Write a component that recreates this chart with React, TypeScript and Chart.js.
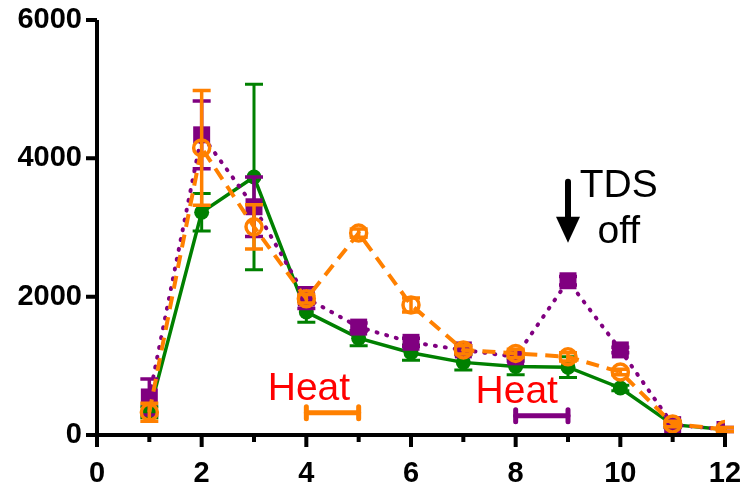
import React, { useEffect, useRef } from "react";
import { Chart, registerables } from "chart.js";

Chart.register(...registerables);

const xValues = [1, 2, 3, 4, 5, 6, 7, 8, 9, 10, 11, 12];
const greenValues = [330, 3220, 3730, 1780, 1400, 1190, 1050, 990, 980, 680, 150, 80];
const greenErrors = [80, 270, 1340, 150, 110, 110, 110, 120, 150, 40, 40, 30];
const purpleValues = [550, 4340, 3300, 1980, 1560, 1340, 1230, 1130, 2230, 1230, 150, 80];
const purpleErrors = [260, 490, 430, 150, 60, 60, 60, 60, 60, 40, 40, 30];
const orangeValues = [330, 4150, 3010, 1970, 2920, 1880, 1230, 1180, 1130, 910, 160, 80];
const orangeErrors = [130, 830, 320, 60, 60, 100, 60, 60, 60, 40, 40, 30];

const xTicks = [0, 2, 4, 6, 8, 10, 12];
const yTicks = [0, 2000, 4000, 6000];

const heatOrange = { from: 4, to: 5, y: 320, labelX: 4.05, labelY: 500 };
const heatPurple = { from: 8, to: 9, y: 280, labelX: 8.02, labelY: 465 };
const tdsArrow = { x: 9, fromY: 3660, toY: 2780, labelX: 9.97, line1Y: 3440, line2Y: 2775 };

const GREEN = "#008000";
const PURPLE = "#800080";
const ORANGE = "#FF8000";

const toPoints = (vals: number[]) => vals.map((v, i) => ({ x: xValues[i], y: v }));

const errorBarPlugin = {
  id: "errorBars",
  beforeDatasetDraw(chart: any, args: any) {
    const ds = chart.data.datasets[args.index];
    const errs: number[] | undefined = ds.errors;
    if (!errs) return;
    const ctx = chart.ctx;
    const xs = chart.scales.x;
    const ys = chart.scales.y;
    ctx.save();
    ctx.strokeStyle = ds.borderColor;
    ctx.lineWidth = ds.errorWidth || 3;
    ctx.lineCap = "butt";
    ctx.setLineDash([]);
    const cap = 9;
    ds.data.forEach((p: any, i: number) => {
      const e = errs[i];
      const px = xs.getPixelForValue(p.x);
      const top = ys.getPixelForValue(p.y + e);
      const bot = ys.getPixelForValue(Math.max(0, p.y - e));
      ctx.beginPath();
      ctx.moveTo(px, top);
      ctx.lineTo(px, bot);
      ctx.moveTo(px - cap, top);
      ctx.lineTo(px + cap, top);
      ctx.moveTo(px - cap, bot);
      ctx.lineTo(px + cap, bot);
      ctx.stroke();
    });
    ctx.restore();
  },
};

const annotationPlugin = {
  id: "annotations",
  afterDatasetsDraw(chart: any) {
    const ctx = chart.ctx;
    const xs = chart.scales.x;
    const ys = chart.scales.y;
    ctx.save();
    const drawHeatBar = (h: any, color: string) => {
      const x1 = xs.getPixelForValue(h.from);
      const x2 = xs.getPixelForValue(h.to);
      const y = ys.getPixelForValue(h.y);
      ctx.strokeStyle = color;
      ctx.lineCap = "round";
      ctx.lineWidth = 5;
      ctx.beginPath();
      ctx.moveTo(x1, y);
      ctx.lineTo(x2, y);
      ctx.stroke();
      ctx.beginPath();
      ctx.moveTo(x1, y - 6);
      ctx.lineTo(x1, y + 6);
      ctx.moveTo(x2, y - 6);
      ctx.lineTo(x2, y + 6);
      ctx.stroke();
      ctx.fillStyle = "#FF0000";
      ctx.font = "39px 'Liberation Sans', Arial, sans-serif";
      ctx.textAlign = "center";
      ctx.textBaseline = "alphabetic";
      ctx.fillText("Heat", xs.getPixelForValue(h.labelX), ys.getPixelForValue(h.labelY));
    };
    drawHeatBar(heatOrange, ORANGE);
    drawHeatBar(heatPurple, PURPLE);

    // TDS arrow
    const ax = xs.getPixelForValue(tdsArrow.x);
    const ay1 = ys.getPixelForValue(tdsArrow.fromY);
    const ay2 = ys.getPixelForValue(tdsArrow.toY);
    ctx.strokeStyle = "#000";
    ctx.fillStyle = "#000";
    ctx.lineWidth = 6;
    ctx.lineCap = "round";
    ctx.beginPath();
    ctx.moveTo(ax, ay1);
    ctx.lineTo(ax, ay2 - 18);
    ctx.stroke();
    ctx.beginPath();
    ctx.moveTo(ax - 12, ay2 - 26);
    ctx.lineTo(ax + 12, ay2 - 26);
    ctx.lineTo(ax, ay2);
    ctx.closePath();
    ctx.fill();
    ctx.font = "39px 'Liberation Sans', Arial, sans-serif";
    ctx.textAlign = "center";
    ctx.fillText("TDS", xs.getPixelForValue(tdsArrow.labelX), ys.getPixelForValue(tdsArrow.line1Y));
    ctx.fillText("off", xs.getPixelForValue(tdsArrow.labelX), ys.getPixelForValue(tdsArrow.line2Y));
    ctx.restore();
  },
};

const axisPlugin = {
  id: "axisTicks",
  afterDraw(chart: any) {
    const ctx = chart.ctx;
    const xs = chart.scales.x;
    const ys = chart.scales.y;
    const area = chart.chartArea;
    ctx.save();
    ctx.strokeStyle = "#000";
    ctx.lineWidth = 4;
    ctx.lineCap = "butt";
    ctx.beginPath();
    ctx.moveTo(area.left, area.top);
    ctx.lineTo(area.left, area.bottom + 2);
    ctx.moveTo(area.left - 2, area.bottom);
    ctx.lineTo(area.right + 2, area.bottom);
    for (let v = 0; v <= 12; v++) {
      const px = xs.getPixelForValue(v);
      const len = v % 2 === 0 ? 12 : 7;
      ctx.moveTo(px, area.bottom);
      ctx.lineTo(px, area.bottom + len);
    }
    yTicks.forEach((v) => {
      const py = ys.getPixelForValue(v);
      ctx.moveTo(area.left, py);
      ctx.lineTo(area.left - 11, py);
    });
    ctx.stroke();
    ctx.restore();
  },
};

export default function App() {
  const ref = useRef<HTMLCanvasElement>(null);
  useEffect(() => {
    if (!ref.current) return;
    const tickFont = { family: "'Liberation Sans', Arial, sans-serif", size: 29, weight: "bold" as const };
    const chart = new Chart(ref.current, {
      type: "line",
      data: {
        datasets: [
          {
            label: "Green",
            data: toPoints(greenValues),
            errors: greenErrors,
            errorWidth: 3,
            borderColor: GREEN,
            backgroundColor: GREEN,
            borderWidth: 3.5,
            pointStyle: "circle",
            pointRadius: 7.5,
            pointBorderWidth: 0,
            pointBackgroundColor: GREEN,
            order: 3,
          } as any,
          {
            label: "Purple",
            data: toPoints(purpleValues),
            errors: purpleErrors,
            errorWidth: 3.5,
            borderColor: PURPLE,
            backgroundColor: PURPLE,
            borderWidth: 4,
            borderDash: [1, 9],
            borderCapStyle: "round",
            pointStyle: "rect",
            pointRadius: 12,
            pointBorderWidth: 0,
            pointBackgroundColor: PURPLE,
            order: 2,
          } as any,
          {
            label: "Orange",
            data: toPoints(orangeValues),
            errors: orangeErrors,
            errorWidth: 3.5,
            borderColor: ORANGE,
            backgroundColor: "rgba(0,0,0,0)",
            borderWidth: 4,
            borderDash: [13, 8],
            pointStyle: "circle",
            pointRadius: 8,
            pointBorderWidth: 3.5,
            pointBorderColor: ORANGE,
            pointBackgroundColor: "rgba(0,0,0,0)",
            order: 1,
          } as any,
        ],
      },
      options: {
        animation: false,
        responsive: false,
        maintainAspectRatio: false,
        layout: { padding: { top: 20, right: 19, left: 0, bottom: 0 } },
        plugins: { legend: { display: false }, tooltip: { enabled: false } },
        elements: { line: { tension: 0 } },
        scales: {
          x: {
            type: "linear",
            min: 0,
            max: 12,
            afterBuildTicks: (scale: any) => {
              scale.ticks = xTicks.map((v) => ({ value: v }));
            },
            afterFit: (scale: any) => {
              scale.height = 50;
              scale.paddingLeft = 0;
              scale.paddingRight = 0;
            },
            ticks: {
              color: "#000",
              font: tickFont,
              padding: 10,
              maxRotation: 0,
              autoSkip: false,
              callback: (v: any) => String(v),
            },
            grid: { display: true, drawOnChartArea: false, drawTicks: true, tickLength: 12, color: "rgba(0,0,0,0)" },
            border: { display: false },
          },
          y: {
            type: "linear",
            min: 0,
            max: 6000,
            afterBuildTicks: (scale: any) => {
              scale.ticks = yTicks.map((v) => ({ value: v }));
            },
            afterFit: (scale: any) => {
              scale.width = 97;
              scale.paddingTop = 0;
              scale.paddingBottom = 0;
            },
            ticks: { color: "#000", font: tickFont, padding: 3, callback: (v: any) => String(v) },
            grid: { display: true, drawOnChartArea: false, drawTicks: true, tickLength: 12, color: "rgba(0,0,0,0)" },
            border: { display: false },
          },
        },
      },
      plugins: [errorBarPlugin, annotationPlugin, axisPlugin],
    });
    return () => chart.destroy();
  }, []);
  return (
    <div style={{ position: "fixed", left: 0, top: 0, width: 744, height: 485, background: "#fff" }}>
      <canvas ref={ref} width={744} height={485} style={{ width: 744, height: 485 }} />
    </div>
  );
}
